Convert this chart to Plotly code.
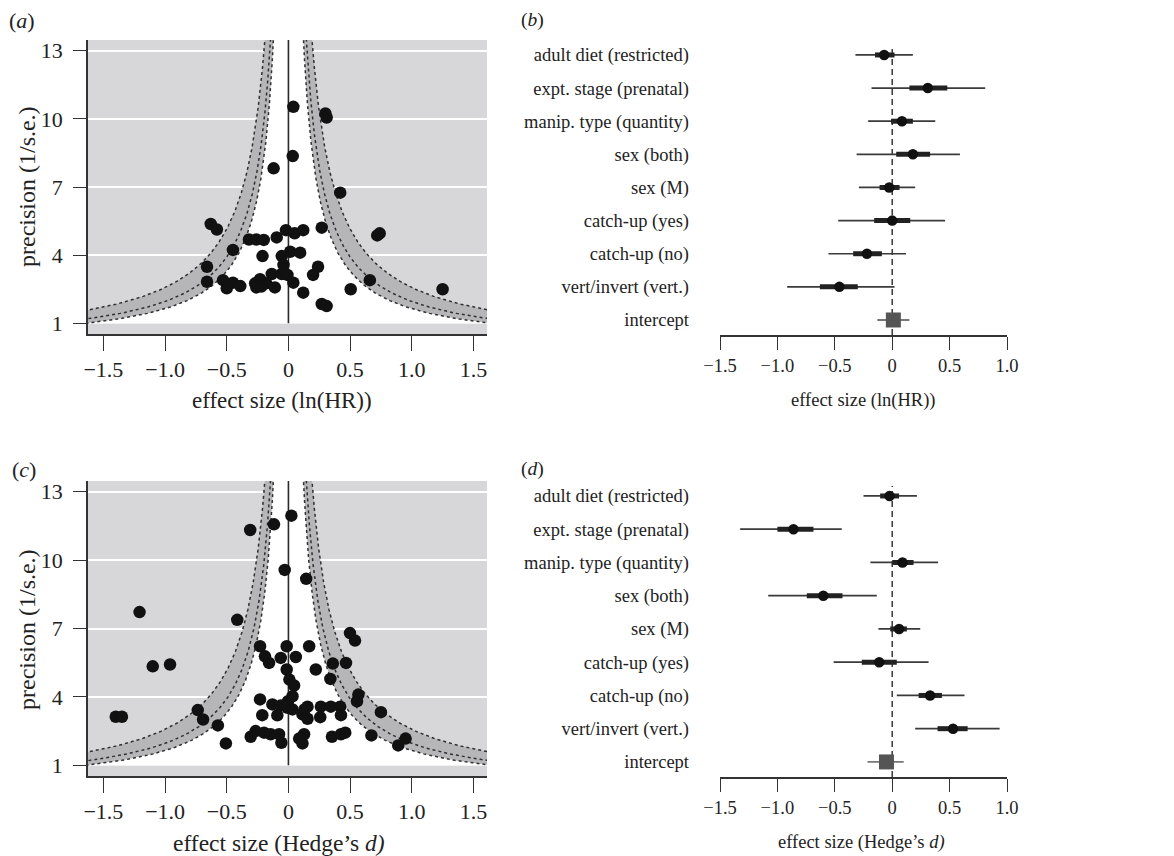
import numpy as np
import plotly.graph_objects as go

# page body has an 8px margin: the figure starts at (8, 8) in the window
OFF = 8
W, H = 1174 - OFF, 856 - OFF
FONT = "Liberation Serif, Times New Roman, serif"

# ---------------- data ----------------
# panel (a): funnel plot, ln(HR)
a_x = [0.04, 0.30, 0.31, 0.035, -0.12, 0.42, -0.63, -0.58, 0.27, 0.72, 0.74, -0.02, 0.05, 0.12,
       -0.095, -0.32, -0.26, -0.20, -0.45, -0.21, -0.054, 0.014, 0.095, -0.66, 0.24, -0.04, 0.20,
       -0.135, -0.054, -0.008, -0.66, -0.53, -0.45, -0.39, -0.50, -0.27, -0.23, -0.26, -0.18,
       -0.11, 0.04, 0.12, 0.505, 0.66, 1.25, 0.27, 0.31, -0.22]
a_y = [10.53, 10.24, 10.06, 8.36, 7.82, 6.75, 5.37, 5.13, 5.21, 4.87, 4.96, 5.10, 4.96, 5.10,
       4.78, 4.69, 4.69, 4.67, 4.23, 3.96, 3.96, 4.15, 4.11, 3.49, 3.49, 3.57, 3.13,
       3.17, 3.17, 3.13, 2.83, 2.90, 2.79, 2.64, 2.54, 2.76, 2.94, 2.58, 2.76,
       2.58, 2.79, 2.35, 2.50, 2.90, 2.50, 1.85, 1.76, 2.62]

# panel (c): funnel plot, Hedge's d
c_x = [0.024, -0.117, -0.31, -0.03, 0.144, -1.207, -0.415, 0.499, 0.54, -0.23, -0.014, 0.168,
       -0.19, -0.157, -0.062, 0.06, -0.014, 0.222, 0.36, 0.467, -1.10, -0.96, 0.008, 0.046,
       0.34, 0.033, -0.003, -0.23, -0.13, -0.062, -0.008, 0.567, 0.556, -1.40, -1.35, -0.735,
       -0.692, -0.572, -0.212, -0.09, 0.033, 0.155, 0.114, 0.155, 0.258, 0.263, 0.344, 0.42,
       0.426, 0.75, -0.306, -0.266, -0.198, -0.144, -0.076, -0.057, -0.507, 0.087, 0.114,
       0.127, 0.353, 0.426, 0.461, 0.673, 0.89, 0.95, 0.13]
c_y = [11.95, 11.57, 11.32, 9.57, 9.18, 7.72, 7.38, 6.80, 6.47, 6.22, 6.22, 6.22,
       5.78, 5.49, 5.71, 5.75, 5.20, 5.20, 5.46, 5.49, 5.34, 5.42, 4.76, 4.50,
       4.79, 4.03, 3.81, 3.89, 3.67, 3.62, 3.52, 4.10, 3.81, 3.13, 3.13, 3.42,
       3.01, 2.75, 3.20, 3.19, 3.45, 3.57, 3.23, 3.04, 3.11, 3.57, 3.57, 3.57,
       3.20, 3.33, 2.25, 2.50, 2.43, 2.36, 2.36, 1.99, 1.96, 2.17, 1.96,
       2.36, 2.25, 2.36, 2.43, 2.31, 1.87, 2.17, 3.45]

# forest plots (b) and (d)
moderators = ["adult diet (restricted)", "expt. stage (prenatal)", "manip. type (quantity)",
              "sex (both)", "sex (M)", "catch-up (yes)", "catch-up (no)",
              "vert/invert (vert.)", "intercept"]

b_est = [-0.07, 0.31, 0.085, 0.18, -0.026, 0.0, -0.22, -0.46, 0.01]
b_lo50 = [-0.15, 0.15, -0.01, 0.035, -0.11, -0.157, -0.34, -0.63, None]
b_hi50 = [0.02, 0.48, 0.18, 0.33, 0.064, 0.157, -0.09, -0.30, None]
b_lo95 = [-0.32, -0.18, -0.21, -0.31, -0.29, -0.47, -0.555, -0.915, -0.13]
b_hi95 = [0.18, 0.81, 0.375, 0.59, 0.20, 0.46, 0.12, 0.02, 0.15]

d_est = [-0.023, -0.86, 0.09, -0.60, 0.06, -0.113, 0.33, 0.53, -0.05]
d_lo50 = [-0.105, -1.0, 0.0, -0.744, -0.017, -0.265, 0.23, 0.395, None]
d_hi50 = [0.06, -0.686, 0.186, -0.433, 0.128, 0.04, 0.433, 0.657, None]
d_lo95 = [-0.25, -1.325, -0.19, -1.08, -0.12, -0.51, 0.04, 0.20, -0.215]
d_hi95 = [0.215, -0.44, 0.40, -0.134, 0.244, 0.317, 0.63, 0.936, 0.10]

funnel_ticks = [-1.5, -1.0, -0.5, 0, 0.5, 1.0, 1.5]
forest_ticks = [-1.5, -1.0, -0.5, 0, 0.5, 1.0]
prec_ticks = [1, 4, 7, 10, 13]
z_levels = [1.645, 1.96, 2.576]


def tick_text(v):
    if v == 0:
        return "0"
    s = f"{abs(v):.1f}"
    return ("\u2212" + s) if v < 0 else s


def px_x(p):
    return (p - OFF) / W


def px_y(p):
    return 1 - (p - OFF) / H


fig = go.Figure()

FX = [-1.625, 1.61]
FY = [0.53, 13.47]
LIGHT = "#d7d7d9"
BAND = "#b6b6b8"
DARK = "#2a2a2a"
FS_FUN = 22
FS_FUN_T = 23
FS_FOR = 18.5

# -------- funnel panels --------
funnel_panels = [
    dict(xa="x", ya="y", xs=a_x, ys=a_y),
    dict(xa="x3", ya="y3", xs=c_x, ys=c_y),
]
yy = np.linspace(1, FY[1], 400)
for p in funnel_panels:
    xa, ya = p["xa"], p["ya"]
    fig.add_shape(type="rect", xref=xa + " domain", yref=ya + " domain", x0=0, x1=1, y0=0, y1=1,
                  fillcolor=LIGHT, line_width=0, layer="below")
    zo, zi = z_levels[2], z_levels[0]
    fig.add_trace(go.Scatter(x=np.concatenate([-zo / yy, (zo / yy)[::-1]]),
                             y=np.concatenate([yy, yy[::-1]]), fill="toself",
                             fillcolor=BAND, line_width=0, mode="lines", hoverinfo="skip",
                             xaxis=xa, yaxis=ya, showlegend=False))
    fig.add_trace(go.Scatter(x=np.concatenate([-zi / yy, (zi / yy)[::-1]]),
                             y=np.concatenate([yy, yy[::-1]]), fill="toself",
                             fillcolor="white", line_width=0, mode="lines", hoverinfo="skip",
                             xaxis=xa, yaxis=ya, showlegend=False))
    for z in z_levels:
        for sgn in (-1, 1):
            fig.add_trace(go.Scatter(x=sgn * z / yy, y=yy, mode="lines",
                                     line=dict(color="#303030", width=1.5, dash="3px,3px"),
                                     hoverinfo="skip", xaxis=xa, yaxis=ya, showlegend=False))
    fig.add_trace(go.Scatter(x=[0, 0], y=[1, FY[1]], mode="lines",
                             line=dict(color=DARK, width=1.6), hoverinfo="skip",
                             xaxis=xa, yaxis=ya, showlegend=False))
    fig.add_trace(go.Scatter(x=p["xs"], y=p["ys"], mode="markers",
                             marker=dict(color="#111111", size=12.5, line_width=0),
                             xaxis=xa, yaxis=ya, showlegend=False))

# -------- forest panels --------
nrow = len(moderators)
rows_y = [nrow - 1 - i for i in range(nrow)]
forest_panels = [
    dict(xa="x2", ya="y2", est=b_est, lo50=b_lo50, hi50=b_hi50, lo95=b_lo95, hi95=b_hi95),
    dict(xa="x4", ya="y4", est=d_est, lo50=d_lo50, hi50=d_hi50, lo95=d_lo95, hi95=d_hi95),
]
for p in forest_panels:
    xa, ya = p["xa"], p["ya"]
    fig.add_shape(type="line", xref=xa, yref=ya + " domain", x0=0, x1=0, y0=0, y1=1,
                  line=dict(color=DARK, width=1.4, dash="6px,4px"), layer="below")
    thin_x, thin_y, thick_x, thick_y = [], [], [], []
    for i in range(nrow - 1):
        thin_x += [p["lo95"][i], p["hi95"][i], None]
        thin_y += [rows_y[i], rows_y[i], None]
        thick_x += [p["lo50"][i], p["hi50"][i], None]
        thick_y += [rows_y[i], rows_y[i], None]
    fig.add_trace(go.Scatter(x=thin_x, y=thin_y, mode="lines", line=dict(color="#3a3a3a", width=1.7),
                             xaxis=xa, yaxis=ya, showlegend=False, hoverinfo="skip"))
    fig.add_trace(go.Scatter(x=thick_x, y=thick_y, mode="lines", line=dict(color="#222222", width=5),
                             xaxis=xa, yaxis=ya, showlegend=False, hoverinfo="skip"))
    fig.add_trace(go.Scatter(x=p["est"][:-1], y=rows_y[:-1], mode="markers",
                             marker=dict(color="#111111", size=10.5, line_width=0),
                             xaxis=xa, yaxis=ya, showlegend=False))
    fig.add_trace(go.Scatter(x=[p["lo95"][-1], p["hi95"][-1]], y=[rows_y[-1]] * 2, mode="lines",
                             line=dict(color="#777777", width=1.8),
                             xaxis=xa, yaxis=ya, showlegend=False, hoverinfo="skip"))
    fig.add_trace(go.Scatter(x=[p["est"][-1]], y=[rows_y[-1]], mode="markers",
                             marker=dict(color="#555555", size=15, symbol="square", line_width=0),
                             xaxis=xa, yaxis=ya, showlegend=False))

# -------- axes --------
fun_font = dict(family=FONT, size=FS_FUN, color="#222222")
for_font = dict(family=FONT, size=FS_FOR, color="#222222")
funnel_x = dict(range=FX, tickvals=funnel_ticks, ticktext=[tick_text(v) for v in funnel_ticks],
                ticks="outside", ticklen=15, tickwidth=1.4, tickcolor="#333333",
                showline=True, linecolor="#333333", linewidth=1.6, showgrid=False,
                zeroline=False, tickfont=fun_font, automargin=False)
funnel_y = dict(range=FY, tickvals=prec_ticks, ticks="outside", ticklen=13, tickwidth=1.4,
                tickcolor="#333333", showline=True, linecolor="#333333", linewidth=1.6,
                showgrid=True, gridcolor="white", gridwidth=2, zeroline=False, tickfont=fun_font,
                ticklabelstandoff=6, automargin=False)
forest_x = dict(range=[-1.5, 1.0], tickvals=forest_ticks, ticktext=[tick_text(v) for v in forest_ticks],
                ticks="outside", ticklen=13, tickwidth=1.4, tickcolor="#333333",
                showline=True, linecolor="#333333", linewidth=1.6, showgrid=False,
                zeroline=False, tickfont=for_font, automargin=False)
forest_y = dict(tickvals=rows_y, ticktext=moderators, ticks="", showline=False, showgrid=False,
                zeroline=False, tickfont=for_font, ticklabelstandoff=30, automargin=False)

fig.update_layout(
    width=W, height=H, margin=dict(l=0, r=0, t=0, b=0),
    paper_bgcolor="white", plot_bgcolor="white",
    font=dict(family=FONT, color="#222222"),
    xaxis=dict(domain=[px_x(88), px_x(487)], anchor="y", **funnel_x),
    yaxis=dict(domain=[px_y(334), px_y(40)], anchor="x", **funnel_y),
    xaxis3=dict(domain=[px_x(88), px_x(487)], anchor="y3", **funnel_x),
    yaxis3=dict(domain=[px_y(776), px_y(481)], anchor="x3", **funnel_y),
    xaxis2=dict(domain=[px_x(720), px_x(1007)], anchor="y2", **forest_x),
    yaxis2=dict(domain=[px_y(335), px_y(45)], anchor="x2", range=[-0.453, 8.3], **forest_y),
    xaxis4=dict(domain=[px_x(720), px_x(1007)], anchor="y4", **forest_x),
    yaxis4=dict(domain=[px_y(777), px_y(486)], anchor="x4", range=[-0.453, 8.3], **forest_y),
)

# axis titles and panel letters
ann = [
    dict(text="effect size (ln(HR))", x=282, y=400, size=FS_FUN_T),
    dict(text="effect size (ln(HR))", x=863, y=400, size=FS_FOR),
    dict(text="effect size (Hedge\u2019s <i>d)</i>", x=279, y=843, size=FS_FUN_T + 0.5),
    dict(text="effect size (Hedge\u2019s <i>d)</i>", x=861, y=842, size=FS_FOR),
    dict(text="(<i>a</i>)", x=22, y=20, size=FS_FUN),
    dict(text="(<i>b</i>)", x=532, y=20, size=FS_FOR + 1),
    dict(text="(<i>c</i>)", x=24, y=470, size=FS_FUN),
    dict(text="(<i>d</i>)", x=532, y=469, size=FS_FOR + 1),
]
for a in ann:
    fig.add_annotation(text=a["text"], x=px_x(a["x"]), y=px_y(a["y"]), xref="paper", yref="paper",
                       showarrow=False, xanchor="center", yanchor="middle",
                       font=dict(family=FONT, size=a["size"], color="#222222"))
for yc in (187, 630):
    fig.add_annotation(text="precision (1/s.e.)", x=px_x(27), y=px_y(yc), xref="paper", yref="paper",
                       showarrow=False, xanchor="center", yanchor="middle", textangle=-90,
                       font=dict(family=FONT, size=24, color="#222222"))

fig.write_html("out.html")
